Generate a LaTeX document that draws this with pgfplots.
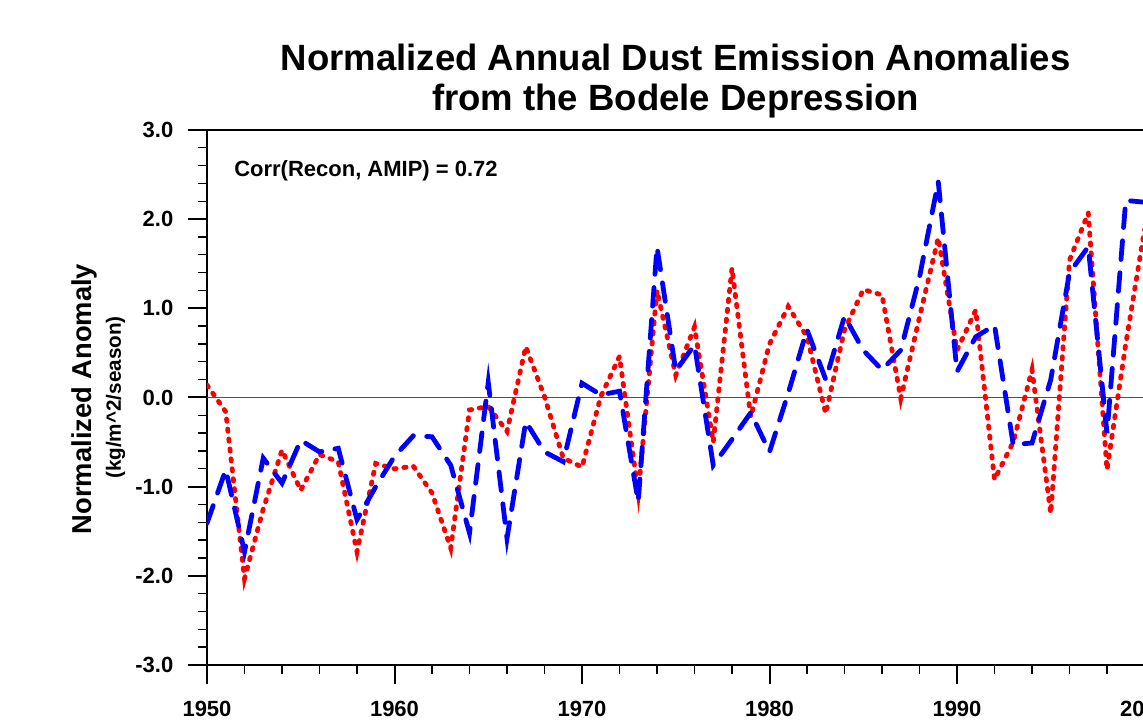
\documentclass[border=0pt]{standalone}
\usepackage{fontspec}
\setmainfont{Liberation Sans}
\usepackage{pgfplots}
\usepackage{pgfplotstable}
\pgfplotsset{compat=1.18}
\pgfplotstableread{
year blue red
1950 -1.41 0.14
1951 -0.81 -0.16
1952 -1.73 -2.03
1953 -0.68 -1.25
1954 -0.96 -0.59
1955 -0.48 -1.04
1956 -0.61 -0.64
1957 -0.57 -0.72
1958 -1.37 -1.73
1959 -1.00 -0.74
1960 -0.66 -0.80
1961 -0.43 -0.77
1962 -0.44 -1.07
1963 -0.76 -1.69
1964 -1.52 -0.14
1965 0.17 -0.10
1966 -1.58 -0.38
1967 -0.27 0.57
1968 -0.61 0.01
1969 -0.72 -0.68
1970 0.16 -0.78
1971 0.03 0.01
1972 0.07 0.46
1973 -1.17 -1.07
1974 1.69 1.20
1975 0.30 0.25
1976 0.59 0.79
1977 -0.76 -0.50
1978 -0.47 1.45
1979 -0.17 -0.22
1980 -0.61 0.60
1981 0.05 1.02
1982 0.76 0.68
1983 0.20 -0.18
1984 0.91 0.76
1985 0.53 1.21
1986 0.31 1.15
1987 0.53 -0.01
1988 1.35 0.90
1989 2.42 1.79
1990 0.29 0.53
1991 0.68 0.98
1992 0.81 -0.92
1993 -0.53 -0.50
1994 -0.51 0.31
1995 0.20 -1.30
1996 1.40 1.54
1997 1.69 2.07
1998 -0.40 -0.81
1999 2.21 0.60
2000 2.19 1.88
}\data
\definecolor{zeroline}{RGB}{80,80,80}
\begin{document}
\begin{tikzpicture}
\begin{axis}[
  name=ax,
  scale only axis, width=703.125pt, height=401.25pt,
  xmin=1950, xmax=2000, ymin=-3, ymax=3,
  xtick={1950,1960,1970,1980,1990,2000},
  xticklabels={1950,1960,1970,1980,1990,2000},
  minor x tick num=4,
  ytick={-3,-2,-1,0,1,2,3},
  yticklabels={-3.0,-2.0,-1.0,0.0,1.0,2.0,3.0},
  minor y tick num=4,
  tick pos=left,
  tick align=outside,
  major tick length=14.25pt, minor tick length=6.75pt,
  major tick style={line width=1.5pt, black},
  minor tick style={line width=1pt, black},
  axis line style={line width=2pt},
  ticklabel style={font=\fontsize{16.5}{18}\selectfont\bfseries},
  xticklabel style={yshift=-9pt},
  yticklabel style={xshift=-7.5pt},
]
\addplot[draw=zeroline, line width=1.2pt, forget plot] coordinates {(1950,0) (2000,0)};
\addplot[draw=red, line width=3.6pt, line cap=round, dash pattern=on 1.75pt off 5.75pt] table[x=year,y=red]{\data};
\addplot[draw=blue, line width=3.6pt, line cap=round, dash pattern=on 14pt off 10pt] table[x=year,y=blue]{\data};
\end{axis}
\node[anchor=base, font=\fontsize{27.4}{30}\selectfont\bfseries] at ([yshift=44.25pt]ax.north) {Normalized Annual Dust Emission Anomalies};
\node[anchor=base, font=\fontsize{27.4}{30}\selectfont\bfseries] at ([yshift=14.25pt]ax.north) {from the Bodele Depression};
\node[anchor=base west, inner sep=0pt, font=\fontsize{16.5}{18}\selectfont\bfseries] at ([xshift=20.25pt,yshift=-35.25pt]ax.north west) {Corr(Recon, AMIP) = 0.72};
\node[rotate=90, anchor=base, inner sep=0pt, font=\fontsize{20.5}{22}\selectfont\bfseries] at ([xshift=-86.25pt,yshift=-1.1pt]ax.west) {Normalized Anomaly};
\node[rotate=90, anchor=base, inner sep=0pt, font=\fontsize{15.5}{17}\selectfont\bfseries] at ([xshift=-64.5pt,yshift=0pt]ax.west) {(kg/m\^{}2/season)};
\pgfresetboundingbox
\path[use as bounding box] (-155.25pt,-41.25pt) rectangle (702pt,498.75pt);
\end{tikzpicture}
\end{document}
